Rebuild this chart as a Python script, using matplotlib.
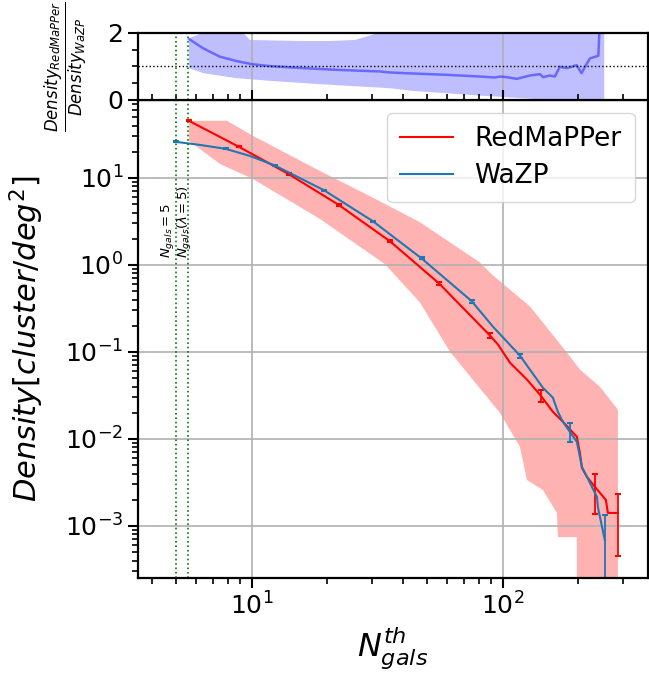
import matplotlib
matplotlib.use("Agg")
import matplotlib.pyplot as plt
from matplotlib.ticker import MultipleLocator, LogLocator, NullFormatter

# RedMaPPer cumulative density
red_n = [5.61, 8.87, 14.0, 22.2, 35.5, 55.6, 88.7, 95.5, 106.6, 113.7, 124.7, 141.6, 158.2,
         173.3, 197.1, 202.7, 206.5, 216.3, 232.8, 257.3, 262.1, 287.3]
red_d = [45.4, 22.8, 11.1, 4.89, 1.87, 0.615, 0.155, 0.122, 0.0755, 0.0627, 0.0481, 0.0314,
         0.0205, 0.0158, 0.0106, 0.0069, 0.00464, 0.00366, 0.0028, 0.00199, 0.00141, 0.00141]
red_eb_n = [5.61, 8.87, 14.0, 22.2, 35.5, 55.6, 88.7, 141.6, 232.8, 287.3]
red_eb_d = [45.4, 22.8, 11.1, 4.89, 1.87, 0.615, 0.155, 0.0314, 0.0028, 0.00141]
red_eb_lo = [0.5, 0.35, 0.2, 0.1, 0.05, 0.02, 0.009, 0.0046, 0.00143, 0.00096]
red_eb_hi = [0.5, 0.35, 0.2, 0.1, 0.05, 0.02, 0.009, 0.0054, 0.00115, 0.00092]

# RedMaPPer band
band_up_n = [5.61, 7.95, 10.09, 18.7, 29.5, 46.7, 80.9, 91.2, 128.2, 179.9, 202.7, 243.4, 287.3]
band_up_d = [45.4, 45.4, 30.5, 12.0, 6.19, 3.10, 1.07, 0.760, 0.334, 0.0984, 0.0627, 0.0399, 0.0217]
band_lo_n = [5.61, 7.46, 10.09, 18.7, 33.9, 46.7, 61.5, 78.7, 97.3, 116.9, 124.7, 144.3,
             164.1, 165.6, 197.1, 197.1, 287.3]
band_lo_d = [26.7, 14.5, 9.73, 3.37, 1.02, 0.371, 0.101, 0.0421, 0.0200, 0.00811, 0.00337,
             0.00259, 0.00141, 0.000743, 0.000743, 1e-5, 1e-5]

# WaZP cumulative density
wazp_n = [4.98, 6.20, 7.87, 9.82, 12.35, 19.4, 30.4, 47.4, 75.0, 91.2, 116.9, 144.3, 158.2, 165.6,
          173.3, 184.8, 197.1, 206.5, 222.3, 237.1, 239.0, 254.8]
wazp_d = [26.0, 24.0, 21.6, 17.9, 13.9, 7.21, 3.17, 1.19, 0.385, 0.196, 0.0908, 0.0388, 0.0298,
          0.0205, 0.0158, 0.0121, 0.00927, 0.00477, 0.00312, 0.00215, 0.00165, 0.000686]
wazp_eb_n = [4.98, 7.87, 12.35, 19.4, 30.4, 47.4, 75.0, 116.9, 184.8, 254.8]
wazp_eb_d = [26.0, 21.6, 13.9, 7.21, 3.17, 1.19, 0.385, 0.0908, 0.0121, 0.000686]
wazp_eb_err = [0.35, 0.3, 0.2, 0.1, 0.05, 0.03, 0.015, 0.005, 0.003, 0.00065]

# ratio panel
ratio_n = [5.61, 6.40, 7.46, 8.69, 9.97, 11.8, 16.0, 21.7, 32.4, 35.5, 43.8, 59.7, 80.9, 92.9,
           97.3, 103.5, 113.4, 128.2, 140.4, 144.7, 153.8, 161.1, 168.6, 179.4, 187.9, 196.6,
           205.9, 212.3, 222.3, 240.0, 242.2, 243.0]
ratio_v = [1.82, 1.54, 1.29, 1.16, 1.07, 1.01, 0.95, 0.90, 0.85, 0.82, 0.79, 0.75, 0.70, 0.67,
           0.70, 0.68, 0.63, 0.73, 0.77, 0.68, 0.73, 0.70, 0.99, 0.95, 0.99, 1.04, 0.80, 0.99,
           1.24, 1.32, 2.0, 3.0]
ratio_up_n = [5.61, 6.21, 6.81, 8.96, 9.82, 15.5, 20.5, 25.7, 35.5, 253.4]
ratio_up = [1.84, 1.97, 2.1, 2.1, 1.79, 1.76, 1.76, 1.79, 2.1, 2.1]
ratio_lo_n = [5.61, 6.40, 8.69, 11.8, 18.7, 35.5, 43.8, 59.7, 80.9, 109.6, 128.2, 150.0, 253.4]
ratio_lo = [0.95, 0.80, 0.65, 0.57, 0.47, 0.35, 0.27, 0.20, 0.13, 0.07, 0.04, 0.0, 0.0]

cut_n = [5.0, 5.55]

fig = plt.figure(figsize=(6.49, 6.75), dpi=100)
ax = fig.add_axes([0.2126, 0.1437, 0.7856, 0.7082])
axr = fig.add_axes([0.2126, 0.8519, 0.7856, 0.0993], sharex=ax)

for a in (ax, axr):
    for s in a.spines.values():
        s.set_linewidth(1.6)

# main panel
ax.fill(band_up_n + band_lo_n[::-1], band_up_d + band_lo_d[::-1],
        color="red", alpha=0.3, lw=0)
ax.plot(red_n, red_d, color="red", lw=1.5, label="RedMaPPer")
ax.errorbar(red_eb_n, red_eb_d, yerr=[red_eb_lo, red_eb_hi], fmt="none",
            ecolor="red", elinewidth=1.3, capsize=2.5, capthick=1.5)
ax.plot(wazp_n, wazp_d, color="#1f77b4", lw=1.5, label="WaZP")
ax.errorbar(wazp_eb_n, wazp_eb_d, yerr=wazp_eb_err, fmt="none",
            ecolor="#1f77b4", elinewidth=1.3, capsize=2.5, capthick=1.5)
for n in cut_n:
    ax.axvline(n, color="green", ls=":", lw=1.2)
ax.text(5.0, 1.2, r"$N_{gals} = 5$", rotation=90, ha="right", va="bottom", fontsize=9.5)
ax.text(5.9, 1.2, r"$N_{gals}(\lambda = 5)$", rotation=90, ha="right", va="bottom", fontsize=9.5)

ax.set_xscale("log")
ax.set_yscale("log")
ax.set_xlim(3.515, 378)
ax.set_ylim(2.52e-4, 78.8)
ax.grid(True, which="major", color="#b0b0b0", lw=1.2)
ax.tick_params(which="major", labelsize=18, length=7, width=1.5)
ax.tick_params(which="minor", length=4, width=1.2)
ax.yaxis.set_major_locator(LogLocator(base=10, numticks=20))
ax.yaxis.set_minor_locator(LogLocator(base=10, subs=range(2, 10), numticks=20))
ax.yaxis.set_minor_formatter(NullFormatter())
ax.set_xlabel(r"$N^{th}_{gals}$", fontsize=23)
ax.set_ylabel(r"$Density[cluster/deg^2]$", fontsize=22)
ax.yaxis.set_label_coords(-0.18, 0.5)
ax.legend(loc="upper right", fontsize=19, handlelength=2.0, borderpad=0.5, labelspacing=0.4)

# ratio panel
axr.fill(ratio_up_n + ratio_lo_n[::-1], ratio_up + ratio_lo[::-1],
         color="blue", alpha=0.25, lw=0)
axr.plot(ratio_n, ratio_v, color="blue", alpha=0.45, lw=1.8)
axr.axhline(1, color="black", ls=":", lw=1)
for n in cut_n:
    axr.axvline(n, color="green", ls=":", lw=1.2)
axr.set_ylim(0, 2)
axr.yaxis.set_major_locator(MultipleLocator(2))
axr.yaxis.set_minor_locator(MultipleLocator(0.5))
axr.grid(True, which="major", color="#b0b0b0", lw=1.2)
axr.tick_params(axis="x", which="both", direction="in", labelbottom=False)
axr.tick_params(which="major", labelsize=18, length=7, width=1.5)
axr.tick_params(which="minor", length=4, width=1.2)
axr.set_ylabel(r"$\frac{Density_{RedMaPPer}}{Density_{WaZP}}$", fontsize=17)
axr.yaxis.set_label_coords(-0.095, 0.5)

fig.savefig("out.png", dpi=100)
